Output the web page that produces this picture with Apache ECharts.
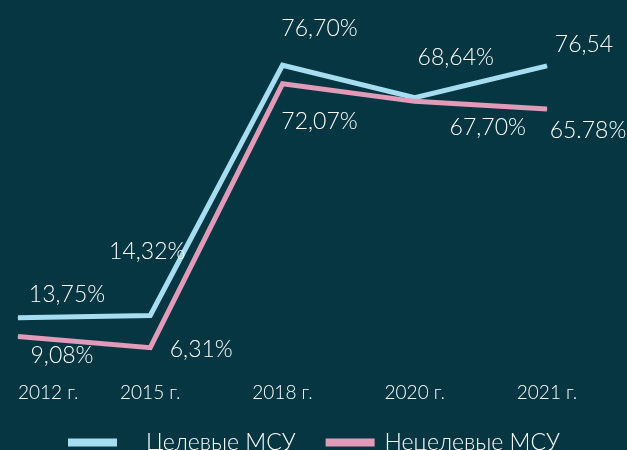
<!DOCTYPE html>
<html>
<head>
<meta charset="utf-8">
<script src="https://cdn.jsdelivr.net/npm/echarts@6/dist/echarts.min.js"></script>
<style>
  html, body { margin: 0; padding: 0; background: #063641; }
  #chart { width: 627px; height: 450px; }
</style>
</head>
<body>
<div id="chart"></div>
<script>
// Share of municipal support measures, by year
const years = ['2012 г.', '2015 г.', '2018 г.', '2020 г.', '2021 г.'];
const targetShare = [13.75, 14.32, 76.70, 68.64, 76.54];
const nonTargetShare = [9.08, 6.31, 72.07, 67.70, 65.78];
const targetLabels = ['13,75%', '14,32%', '76,70%', '68,64%', '76,54'];
const nonTargetLabels = ['9,08%', '6,31%', '72,07%', '67,70%', '65.78%'];
const seriesNames = ['Целевые МСУ', 'Нецелевые МСУ'];

const FONT = 'Lato, "Noto Sans", sans-serif';
const BLUE = '#a6ddf1';
const PINK = '#e29ab9';

// label placement around each point (dx, dy)
const targetOffsets = [[49, -23], [-3, -64], [37, -37], [41, -40], [37, -21]];
const nonTargetOffsets = [[44, 19], [51, 2], [37, 38], [73, 26], [41, 22]];

function points(values, texts, offsets) {
  return values.map((v, i) => ({
    value: v,
    label: { formatter: texts[i], offset: offsets[i] }
  }));
}

function lineSeries(name, color, values, texts, offsets) {
  return {
    name: name,
    type: 'line',
    data: points(values, texts, offsets),
    symbol: 'circle',
    symbolSize: 1,
    itemStyle: { color: color },
    lineStyle: { color: color, width: 5, join: 'miter', cap: 'butt' },
    emphasis: { disabled: true },
    label: {
      show: true,
      position: 'inside',
      align: 'center',
      verticalAlign: 'middle',
      color: '#ffffff',
      fontFamily: FONT,
      fontSize: 23,
      fontWeight: 300
    }
  };
}

const chart = echarts.init(document.getElementById('chart'), null, { renderer: 'canvas' });
chart.setOption({
  backgroundColor: '#063641',
  animation: false,
  grid: { left: 18, right: 80, top: 52, bottom: 77 },
  xAxis: {
    type: 'category',
    data: years,
    boundaryGap: false,
    axisLine: { show: false },
    axisTick: { show: false },
    axisLabel: {
      color: '#ffffff',
      fontFamily: FONT,
      fontSize: 19,
      fontWeight: 300,
      margin: 10,
      alignMinLabel: 'left'
    }
  },
  yAxis: {
    type: 'value',
    min: 0,
    max: 80,
    show: false,
    splitLine: { show: false }
  },
  legend: {
    left: 63,
    top: 426,
    icon: 'rect',
    itemWidth: 49,
    itemHeight: 8,
    itemGap: 30,
    textStyle: { color: '#ffffff', fontFamily: FONT, fontSize: 23, fontWeight: 300 },
    data: [
      { name: seriesNames[0], textStyle: { padding: [0, 0, 0, 24] } },
      { name: seriesNames[1], textStyle: { padding: [0, 0, 0, 5] } }
    ]
  },
  series: [
    lineSeries(seriesNames[0], BLUE, targetShare, targetLabels, targetOffsets),
    lineSeries(seriesNames[1], PINK, nonTargetShare, nonTargetLabels, nonTargetOffsets)
  ]
});
</script>
</body>
</html>
